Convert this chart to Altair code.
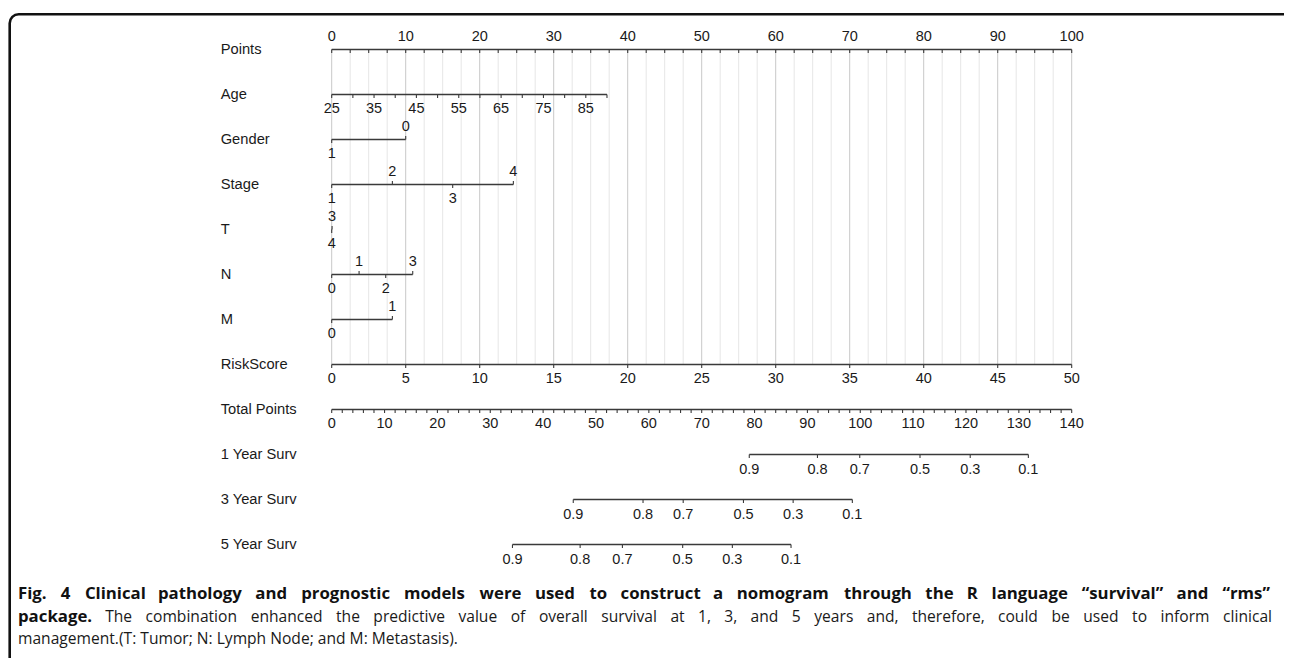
import altair as alt
import pandas as pd

# ---------------- values ----------------
ROW_NAMES = ["Points", "Age", "Gender", "Stage", "T", "N", "M", "RiskScore",
             "Total Points", "1 Year Surv", "3 Year Surv", "5 Year Surv"]

POINT_MAJOR = list(range(0, 101, 10))
POINT_MINOR = [i * 2.5 for i in range(41)]

AGE_TICKS = list(range(25, 91, 5))
AGE_LABELS = list(range(25, 86, 10))
AGE_MIN, AGE_MAX, AGE_MAX_POINTS = 25, 90, 37.2

GENDER_LEVELS = ["1", "0"]
GENDER_POINTS = [0, 10]
STAGE_LEVELS = ["1", "2", "3", "4"]
STAGE_POINTS = [0, 8.2, 16.35, 24.55]
T_LEVELS = ["4", "3"]
T_POINTS = [0, 0.05]
N_LEVELS = ["0", "1", "2", "3"]
N_POINTS = [0, 3.7, 7.3, 10.95]
M_LEVELS = ["0", "1"]
M_POINTS = [0, 8.2]

RISK_TICKS = list(range(0, 51, 5))
RISK_MAX = 50

TOTAL_MAJOR = list(range(0, 141, 10))
TOTAL_MINOR = list(range(0, 141, 2))
TOTAL_MAX = 140

SURV_LABELS = ["0.9", "0.8", "0.7", "0.5", "0.3", "0.1"]
SURV1_TOTAL = [79.0, 91.9, 99.9, 111.3, 120.8, 131.8]
SURV3_TOTAL = [45.7, 58.9, 66.5, 77.9, 87.3, 98.5]
SURV5_TOTAL = [34.2, 47.0, 55.0, 66.4, 75.8, 86.9]

CAPTION_1 = ("Fig. 4 Clinical pathology and prognostic models were used to construct a "
             "nomogram through the R language \u201csurvival\u201d and \u201crms\u201d")
CAPTION_2B = "package."
CAPTION_2 = ("The combination enhanced the predictive value of overall survival at 1, 3, "
             "and 5 years and, therefore, could be used to inform clinical")
CAPTION_3 = "management.(T: Tumor; N: Lymph Node; and M: Metastasis)."

# ---------------- build tables ----------------
def tot2pts(t):
    return t * 100.0 / TOTAL_MAX

lines, tdown, tup, lab_above, lab_below = [], [], [], [], []

def add_line(r, a, b):
    lines.append({"row": r, "x0": a, "x1": b})

# Points
add_line(0, 0, 100)
for v in POINT_MINOR:
    tdown.append({"row": 0, "x": v})
for v in POINT_MAJOR:
    lab_above.append({"row": 0, "x": v, "text": str(v)})

# Age
age_pts = lambda a: (a - AGE_MIN) / (AGE_MAX - AGE_MIN) * AGE_MAX_POINTS
add_line(1, age_pts(AGE_MIN), age_pts(AGE_MAX))
for a in AGE_TICKS:
    tdown.append({"row": 1, "x": age_pts(a)})
for a in AGE_LABELS:
    lab_below.append({"row": 1, "x": age_pts(a), "text": str(a)})

# categorical rows: labels alternate below / above in order of points
def add_cat(r, levels, pts):
    add_line(r, min(pts), max(pts))
    for i, (lv, p) in enumerate(zip(levels, pts)):
        if i % 2 == 0:
            tdown.append({"row": r, "x": p})
            lab_below.append({"row": r, "x": p, "text": lv})
        else:
            tup.append({"row": r, "x": p})
            lab_above.append({"row": r, "x": p, "text": lv})

add_cat(2, GENDER_LEVELS, GENDER_POINTS)
add_cat(3, STAGE_LEVELS, STAGE_POINTS)
add_cat(4, T_LEVELS, T_POINTS)
add_cat(5, N_LEVELS, N_POINTS)
add_cat(6, M_LEVELS, M_POINTS)

# RiskScore
add_line(7, 0, 100)
for v in RISK_TICKS:
    p = v / RISK_MAX * 100
    tdown.append({"row": 7, "x": p})
    lab_below.append({"row": 7, "x": p, "text": str(v)})

# Total points
add_line(8, 0, 100)
for v in TOTAL_MINOR:
    tdown.append({"row": 8, "x": tot2pts(v)})
for v in TOTAL_MAJOR:
    lab_below.append({"row": 8, "x": tot2pts(v), "text": str(v)})

# Survival rows
for r, tots in [(9, SURV1_TOTAL), (10, SURV3_TOTAL), (11, SURV5_TOTAL)]:
    ps = [tot2pts(t) for t in tots]
    add_line(r, min(ps), max(ps))
    for lab, p in zip(SURV_LABELS, ps):
        tdown.append({"row": r, "x": p})
        lab_below.append({"row": r, "x": p, "text": lab, "surv": 1})

grid = pd.DataFrame({"x": POINT_MINOR,
                     "major": [v % 10 == 0 for v in POINT_MINOR],
                     "y0": 0, "y1": 7})
names_df = pd.DataFrame({"row": list(range(len(ROW_NAMES))), "name": ROW_NAMES})
lines_df = pd.DataFrame(lines)
tdown_df = pd.DataFrame(tdown)
tup_df = pd.DataFrame(tup)
above_df = pd.DataFrame(lab_above)
below_df = pd.DataFrame(lab_below).fillna({"surv": 0})

# ---------------- caption layout (justified lines) ----------------
W_REG = {" ": .26, "a": .556, "b": .613, "c": .476, "d": .613, "e": .561, "f": .339,
         "g": .548, "h": .614, "i": .253, "j": .253, "k": .525, "l": .253, "m": .93,
         "n": .614, "o": .604, "p": .613, "q": .613, "r": .408, "s": .477, "t": .353,
         "u": .614, "v": .501, "w": .778, "x": .524, "y": .502, "z": .462, ".": .266,
         ",": .244, "(": .297, ")": .297, ":": .266, ";": .266, "\u201c": .47,
         "\u201d": .47, "T": .547, "N": .738, "M": .903, "L": .528, "C": .633,
         "F": .543, "R": .616, "I": .279}
BOLD_K = 1.07
CAP_BOLD_SIZE = 16.8
CAP_REG_SIZE = 15.6
CAP_LEFT, CAP_RIGHT = 10, 1264


def word_w(w, bold):
    s = sum(W_REG.get(ch, 0.572 if ch.isdigit() else 0.6) for ch in w)
    return s * (BOLD_K * CAP_BOLD_SIZE if bold else CAP_REG_SIZE)


cap_rows = []


def justify(words, bolds, ybase):
    widths = [word_w(w, b) for w, b in zip(words, bolds)]
    gap = (CAP_RIGHT - CAP_LEFT - sum(widths)) / (len(words) - 1)
    x = CAP_LEFT
    for w, b, wd in zip(words, bolds, widths):
        cap_rows.append({"t": w, "px": x, "py": ybase, "bold": b})
        x += wd + gap


w1 = CAPTION_1.split(" ")
justify(w1, [True] * len(w1), 591)
w2 = [CAPTION_2B] + CAPTION_2.split(" ")
justify(w2, [True] + [False] * (len(w2) - 1), 613.5)
cap_rows.append({"t": CAPTION_3, "px": CAP_LEFT, "py": 636, "bold": False})
cap_df = pd.DataFrame(cap_rows)

# ---------------- scales / layout ----------------
W, H = 1276, 650
X0_PX, PX_PER_PT = 323.7, 7.4
ROW0_PX, ROW_STEP = 41.5, 45.0
xs = alt.Scale(domain=[-X0_PX / PX_PER_PT, (W - X0_PX) / PX_PER_PT], nice=False, zero=False)
ys = alt.Scale(domain=[-ROW0_PX / ROW_STEP, (H - ROW0_PX) / ROW_STEP], reverse=True,
               nice=False, zero=False)

FONT = "Liberation Sans"
INK = "#1a1a1a"
AX = "#3a3a3a"


def X(f):
    return alt.X(f, type="quantitative", scale=xs, axis=None)


def Y(f):
    return alt.Y(f, type="quantitative", scale=ys, axis=None)


frame = alt.Chart(pd.DataFrame({"a": [0]})).mark_rect(
    fill="white", fillOpacity=0, stroke="#111111", strokeWidth=2.6, cornerRadius=9
).encode(x=alt.value(1.7), x2=alt.value(W + 40), y=alt.value(6.2), y2=alt.value(H + 40))

grid_minor = alt.Chart(grid[~grid["major"]]).mark_rule(color="#e6e6e6", strokeWidth=1).encode(
    x=X("x"), y=Y("y0"), y2="y1")
grid_major = alt.Chart(grid[grid["major"]]).mark_rule(color="#c8c8c8", strokeWidth=1).encode(
    x=X("x"), y=Y("y0"), y2="y1")

axis_lines = alt.Chart(lines_df).mark_rule(color=AX, strokeWidth=1.3).encode(
    x=X("x0"), x2="x1", y=Y("row"))
ticks_down = alt.Chart(tdown_df).mark_rule(color=AX, strokeWidth=1.1, y2Offset=3.5).encode(
    x=X("x"), y=Y("row"), y2="row")
ticks_up = alt.Chart(tup_df).mark_rule(color=AX, strokeWidth=1.1, y2Offset=-3.5).encode(
    x=X("x"), y=Y("row"), y2="row")

TICK_FS = 14.5
txt_above = alt.Chart(above_df).mark_text(
    font=FONT, fontSize=TICK_FS, color=INK, align="center", baseline="middle", dy=-13
).encode(x=X("x"), y=Y("row"), text="text")
txt_below = alt.Chart(below_df[below_df["surv"] == 0]).mark_text(
    font=FONT, fontSize=TICK_FS, color=INK, align="center", baseline="middle", dy=14
).encode(x=X("x"), y=Y("row"), text="text")
txt_surv = alt.Chart(below_df[below_df["surv"] == 1]).mark_text(
    font=FONT, fontSize=TICK_FS, color=INK, align="center", baseline="middle", dy=15
).encode(x=X("x"), y=Y("row"), text="text")

row_names = alt.Chart(names_df).mark_text(
    font=FONT, fontSize=14.7, color=INK, align="left", baseline="middle"
).encode(x=alt.value(212.7), y=Y("row"), text="name")

cap_bold = alt.Chart(cap_df[cap_df["bold"]]).mark_text(
    font="Open Sans", fontSize=CAP_BOLD_SIZE, fontWeight="bold", color="#111111",
    align="left", baseline="alphabetic"
).encode(x=alt.X("px:Q", scale=None, axis=None), y=alt.Y("py:Q", scale=None, axis=None),
         text="t:N")
cap_reg = alt.Chart(cap_df[~cap_df["bold"]]).mark_text(
    font="Open Sans", fontSize=CAP_REG_SIZE, color="#1a1a1a",
    align="left", baseline="alphabetic"
).encode(x=alt.X("px:Q", scale=None, axis=None), y=alt.Y("py:Q", scale=None, axis=None),
         text="t:N")

chart = alt.layer(
    frame, grid_minor, grid_major, axis_lines, ticks_down, ticks_up,
    txt_above, txt_below, txt_surv, row_names, cap_bold, cap_reg
).properties(
    width=W, height=H, padding=0, autosize=alt.AutoSizeParams(type="none")
).resolve_scale(x="independent", y="independent").configure_view(strokeWidth=0)

chart.save("out.html", embed_options={"renderer": "svg", "actions": False})
